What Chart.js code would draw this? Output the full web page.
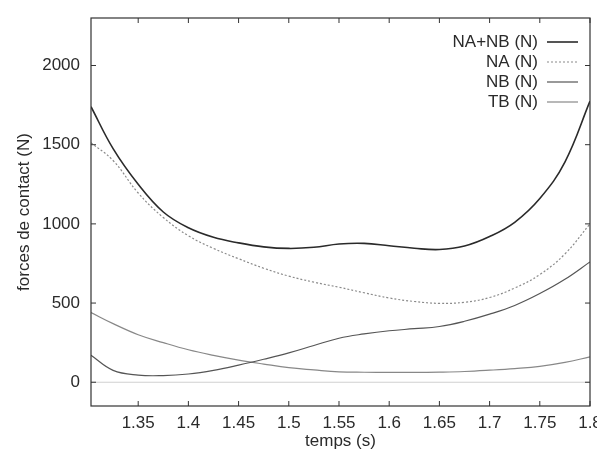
<!DOCTYPE html>
<html>
<head>
<meta charset="utf-8">
<script src="https://cdn.jsdelivr.net/npm/chart.js@4.4.0/dist/chart.umd.min.js"></script>
<style>
  html, body { margin: 0; padding: 0; background: #fff; overflow: hidden; }
  #wrap { width: 597px; height: 454px; position: relative; }
</style>
</head>
<body>
<div id="wrap"><canvas id="chart"></canvas></div>
<script>
const temps = [1.303, 1.325, 1.35, 1.375, 1.4, 1.425, 1.45, 1.475, 1.5, 1.525, 1.55,
  1.575, 1.6, 1.625, 1.65, 1.675, 1.7, 1.725, 1.75, 1.775, 1.8];
const naNb = [1740, 1475, 1250, 1075, 975, 915, 880, 855, 845, 852, 873,
  877, 862, 846, 838, 860, 920, 1010, 1160, 1390, 1775];
const na = [1512, 1400, 1195, 1040, 925, 845, 780, 720, 670, 632, 600,
  565, 532, 510, 498, 505, 535, 595, 680, 810, 1000];
const nb = [170, 75, 45, 42, 52, 75, 108, 145, 185, 232, 278,
  305, 325, 338, 352, 385, 430, 485, 560, 650, 760];
const tb = [440, 370, 300, 250, 205, 170, 140, 115, 92, 78, 66,
  63, 62, 62, 64, 68, 76, 86, 100, 125, 160];
const xTicks = [1.35, 1.4, 1.45, 1.5, 1.55, 1.6, 1.65, 1.7, 1.75, 1.8];
const yTicks = [0, 500, 1000, 1500, 2000];

const pts = (ys) => temps.map((t, i) => ({ x: t, y: ys[i] }));

Chart.defaults.font.family = "'Liberation Sans', Arial, sans-serif";
Chart.defaults.font.size = 17;
Chart.defaults.color = "#2a2a2a";

// gnuplot-ish frame, inward ticks, zero axis and legend
const frame = {
  id: "frame",
  beforeDatasetsDraw(chart) {
    const { ctx, chartArea: a, scales } = chart;
    const y0 = scales.y.getPixelForValue(0);
    ctx.save();
    ctx.strokeStyle = "#d0d0d0";
    ctx.lineWidth = 1;
    ctx.beginPath();
    ctx.moveTo(a.left, y0);
    ctx.lineTo(a.right, y0);
    ctx.stroke();
    ctx.restore();
  },
  afterDatasetsDraw(chart) {
    const { ctx, chartArea: a, scales } = chart;
    ctx.save();
    ctx.strokeStyle = "#333";
    ctx.lineWidth = 1.2;
    ctx.strokeRect(a.left, a.top, a.right - a.left, a.bottom - a.top);
    ctx.lineWidth = 1;
    ctx.beginPath();
    xTicks.forEach((v) => {
      const px = scales.x.getPixelForValue(v);
      ctx.moveTo(px, a.bottom); ctx.lineTo(px, a.bottom - 5);
      ctx.moveTo(px, a.top); ctx.lineTo(px, a.top + 5);
    });
    yTicks.forEach((v) => {
      const py = scales.y.getPixelForValue(v);
      ctx.moveTo(a.left, py); ctx.lineTo(a.left + 5, py);
      ctx.moveTo(a.right, py); ctx.lineTo(a.right - 5, py);
    });
    ctx.stroke();

    // legend, text right-aligned then line sample
    ctx.font = "17px 'Liberation Sans', Arial, sans-serif";
    ctx.textAlign = "right";
    ctx.textBaseline = "middle";
    chart.data.datasets.forEach((ds, i) => {
      const y = 42 + i * 20;
      ctx.fillStyle = "#2a2a2a";
      ctx.fillText(ds.label, 538, y);
      ctx.strokeStyle = ds.borderColor;
      ctx.lineWidth = ds.borderWidth;
      ctx.setLineDash(ds.borderDash || []);
      ctx.beginPath();
      ctx.moveTo(547, y);
      ctx.lineTo(578, y);
      ctx.stroke();
      ctx.setLineDash([]);
    });
    ctx.restore();
  },
};

new Chart(document.getElementById("chart"), {
  type: "line",
  data: {
    datasets: [
      { label: "NA+NB (N)", data: pts(naNb), borderColor: "#2a2a2a", borderWidth: 1.6 },
      { label: "NA (N)", data: pts(na), borderColor: "#8a8a8a", borderWidth: 1.2, borderDash: [2, 2] },
      { label: "NB (N)", data: pts(nb), borderColor: "#555", borderWidth: 1.2 },
      { label: "TB (N)", data: pts(tb), borderColor: "#888", borderWidth: 1.2 },
    ],
  },
  options: {
    responsive: true,
    maintainAspectRatio: false,
    animation: false,
    elements: {
      point: { radius: 0 },
      line: { tension: 0.4, fill: false },
    },
    plugins: { legend: { display: false }, tooltip: { enabled: false } },
    layout: { padding: { top: 18, right: 7, left: 0, bottom: 0 } },
    scales: {
      x: {
        type: "linear",
        min: 1.303,
        max: 1.8,
        grid: { display: false, drawTicks: false },
        border: { display: false },
        afterBuildTicks: (s) => { s.ticks = xTicks.map((v) => ({ value: v })); },
        afterFit: (s) => { s.height = 48; s.paddingRight = 0; s.paddingLeft = 0; },
        ticks: { padding: 7, maxRotation: 0, autoSkip: false, callback: (v) => String(v) },
        title: { display: true, text: "temps (s)", padding: { top: 0, bottom: 2 } },
      },
      y: {
        min: -150,
        max: 2300,
        grid: { display: false, drawTicks: false },
        border: { display: false },
        afterBuildTicks: (s) => { s.ticks = yTicks.map((v) => ({ value: v })); },
        afterFit: (s) => { s.width = 91; s.paddingTop = 0; s.paddingBottom = 0; },
        ticks: { padding: 11, autoSkip: false, callback: (v) => String(v) },
        title: { display: true, text: "forces de contact (N)", padding: { top: 14, bottom: 0 } },
      },
    },
  },
  plugins: [frame],
});
</script>
</body>
</html>
